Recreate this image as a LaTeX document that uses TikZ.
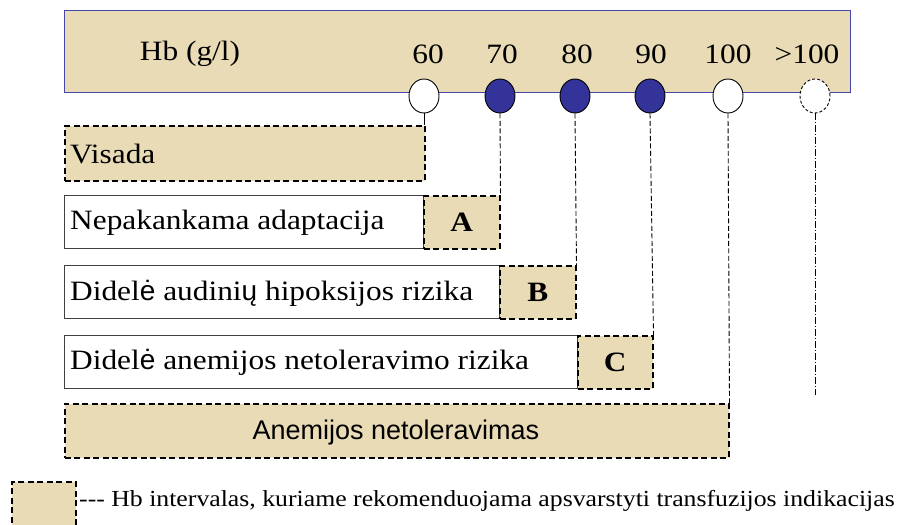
\documentclass[tikz,border=0pt]{standalone}
\usepackage{fontspec}
\usetikzlibrary{shapes.geometric}
\setmainfont[FakeStretch=1.12]{Liberation Serif}
\setsansfont{Liberation Sans}
\definecolor{tan}{HTML}{E8DBB6}
\definecolor{navy}{HTML}{333399}
\definecolor{bandline}{HTML}{4646A8}
\begin{document}
\begin{tikzpicture}[x=1pt,y=-1pt,
  lbl/.style={font=\fontsize{28}{30}\selectfont, inner sep=0pt},
  toplbl/.style={font=\fontsize{28}{30}\selectfont, inner sep=0pt},
  letter/.style={font=\fontsize{28}{30}\selectfont\bfseries},
  tanbox/.style={draw=black, fill=tan, line width=1.5pt, dash pattern=on 6pt off 3.5pt},
  whitebox/.style={draw=black!75, fill=white, line width=1pt},
  dot/.style={ellipse, draw=black, line width=0.9pt, minimum width=30pt, minimum height=34pt, inner sep=0pt},
  vline/.style={draw=black, line width=0.9pt, dash pattern=on 5pt off 2.5pt},
]
\useasboundingbox (0,0) rectangle (911,525);

% Hb scale band
\fill[tan] (64,10) rectangle (850,92);
\draw[bandline, line width=1pt] (64,92) -- (64,10) -- (850,10) -- (850,92) -- cycle;

\node[toplbl] (hb) at (190,54) {Hb (g/l)};
\node[toplbl] (t60) at (428,54) {60};
\node[toplbl] (t70) at (502,54) {70};
\node[toplbl] (t80) at (577,54) {80};
\node[toplbl] (t90) at (651,54) {90};
\node[toplbl] (t100) at (728,54) {100};
\node[toplbl] (t101) at (807,54) {>100};

% threshold markers
\node[dot, fill=white] (c60) at (424,96) {};
\node[dot, fill=navy] (c70) at (500,96) {};
\node[dot, fill=navy] (c80) at (575,96) {};
\node[dot, fill=navy] (c90) at (650,96) {};
\node[dot, fill=white] (c100) at (728,96) {};
\node[dot, fill=white, dash pattern=on 3pt off 2pt] (c101) at (815,96) {};

% rows
\node[tanbox, minimum width=360pt, minimum height=55pt, anchor=north west] (visada) at (64,125) {};
\node[lbl, anchor=west] at (70,154) {Visada};

\node[whitebox, minimum width=359pt, minimum height=53pt, anchor=north west] (r1) at (64,195) {};
\node[lbl, anchor=west] at (70,223) {Nepakankama adaptacija};
\node[tanbox, letter, minimum width=76pt, minimum height=53pt, anchor=north west] (A) at (423,195) {A};

\node[whitebox, minimum width=435pt, minimum height=53pt, anchor=north west] (r2) at (64,265) {};
\node[lbl, anchor=west] at (70,293) {Didel{\sffamily ė} audini{\sffamily ų} hipoksijos rizika};
\node[tanbox, letter, minimum width=76pt, minimum height=53pt, anchor=north west] (B) at (499,265) {B};

\node[whitebox, minimum width=513pt, minimum height=53pt, anchor=north west] (r3) at (64,335) {};
\node[lbl, anchor=west] at (70,362) {Didel{\sffamily ė} anemijos netoleravimo rizika};
\node[tanbox, letter, minimum width=75pt, minimum height=53pt, anchor=north west] (C) at (577,335) {C};

\node[tanbox, minimum width=664pt, minimum height=54pt, anchor=north west] (anem) at (64,403) {};
\node[lbl, font=\sffamily\fontsize{27}{29}\selectfont] at (396,433) {Anemijos netoleravimas};

% connectors from markers
\draw[black, line width=0.9pt] (c60.south) -- (c60.south |- visada.north);
\draw[vline] (c70.south) -- (A.north east);
\draw[vline] (c80.south) -- (B.north east);
\draw[vline] (c90.south) -- (C.north east);
\draw[vline] (c100.south) -- (anem.north east);
\coordinate (end101) at (815,395);
\draw[black, line width=0.9pt, dash pattern=on 7pt off 2pt on 1pt off 2pt] (c101.south) -- (end101);

% legend
\node[tanbox, minimum width=64pt, minimum height=46pt, anchor=north west] (key) at (11,481) {};
\node[lbl, font=\fontsize{23}{25}\selectfont, anchor=west] at (79,501) {\mbox{-}\mbox{-}\mbox{-} Hb intervalas, kuriame rekomenduojama apsvarstyti transfuzijos indikacijas};
\end{tikzpicture}
\end{document}
